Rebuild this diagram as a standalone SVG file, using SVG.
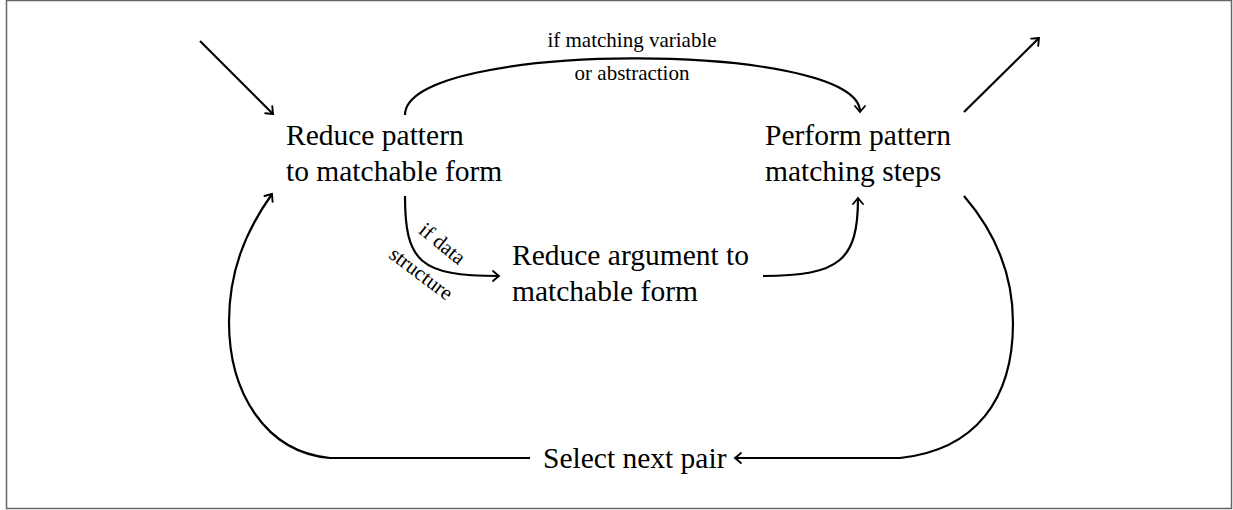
<svg xmlns="http://www.w3.org/2000/svg" width="1233" height="510" viewBox="0 0 1233 510">
<defs>
<marker id="arr" markerUnits="userSpaceOnUse" markerWidth="16" markerHeight="16" viewBox="-8 -8 16 16" refX="0" refY="0" orient="auto">
<path d="M-6,-5 Q-1.5,-1.2 0,0 Q-1.5,1.2 -6,5" fill="none" stroke="#000" stroke-width="1.9" stroke-linecap="round"/>
</marker>
</defs>
<style>
.n{font-family:"Liberation Serif","Times New Roman",serif;font-size:29.5px;fill:#000}
.l{font-family:"Liberation Serif","Times New Roman",serif;font-size:21px;fill:#000}
.c{fill:none;stroke:#000;stroke-width:2.2;marker-end:url(#arr)}
</style>
<rect x="6.5" y="0.5" width="1225" height="508" fill="#fff" stroke="#666" stroke-width="1.5"/>
<g id="connectors">
<path class="c" d="M200,41 L273,114"/>
<path class="c" d="M964,112 L1039,38"/>
<path class="c" d="M405,115 C405,40 860,40 860,112"/>
<path class="c" d="M405,196 C405,262 420,276 499,276"/>
<path class="c" d="M763,276 C840,276 858,260 858,198"/>
<path class="c" d="M964,196 C995,232 1013,275 1013,323 C1013,400 975,450 900,458 L735,458"/>
<path class="c" d="M530,458 L330,458 C265,452 229,392 229,322 C229,272 245,232 272,194"/>
<text class="l" text-anchor="middle" x="632" y="47">if matching variable</text>
<text class="l" text-anchor="middle" x="632" y="80">or abstraction</text>
<text class="l" text-anchor="middle" transform="translate(438,249) rotate(39)">if data</text>
<text class="l" text-anchor="middle" transform="translate(417,279) rotate(37)">structure</text>
</g>
<g id="reduce-pattern">
<text class="n" x="286" y="145">Reduce pattern</text>
<text class="n" x="286" y="181">to matchable form</text>
</g>
<g id="perform-matching">
<text class="n" x="765" y="145">Perform pattern</text>
<text class="n" x="765" y="181">matching steps</text>
</g>
<g id="reduce-argument">
<text class="n" x="512" y="265">Reduce argument to</text>
<text class="n" x="512" y="301">matchable form</text>
</g>
<g id="select-next">
<text class="n" x="543" y="468">Select next pair</text>
</g>
</svg>
